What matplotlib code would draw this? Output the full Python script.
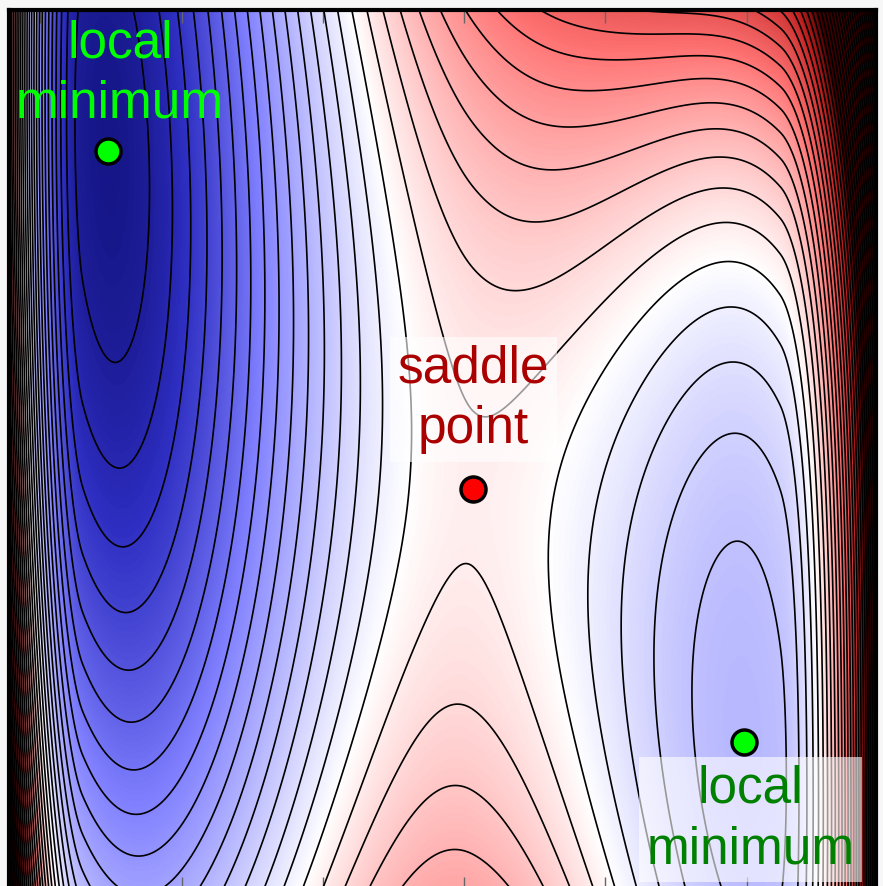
import numpy as np
import matplotlib.pyplot as plt
from matplotlib.colors import LinearSegmentedColormap

# stationary points (fraction of plot width / height): left min, saddle, right min
point_x = [0.114, 0.535, 0.848]
point_y = [0.839, 0.455, 0.167]
point_colors = ["#00ff00", "#ff0000", "#00ff00"]

label_text = ["local\nminimum", "saddle\npoint", "local\nminimum"]
label_colors = ["#00ff00", "#aa0000", "#008000"]
label_x = [0.128, 0.536, 0.855]
label_y = [0.877, 0.507, 0.029]
label_box = [False, True, True]

# surface parameters
saddle_value = 0.05
left_depth = 1.0
right_depth = 0.33
valley_slope = -0.915
curv_left = 0.86
curv_right = 0.5
curv_bump = 0.6
bump_center = 0.65
bump_width = 0.2
quartic_right = 0.8     # steeper rise towards the top right corner
wall_height = 1.0
wall_reach = [0.085, 0.11]
level_step = 0.06
level_offset = 0.0085   # first contour above the saddle

x_ticks = [0.036, 0.199, 0.362, 0.525, 0.688, 0.851]

# build the surface
u = np.linspace(0, 1, 801)
v = np.linspace(0, 1, 801)
u1, u3, u2 = point_x
dp = (u - u1) * (u - u3) * (u - u2)
I = np.concatenate([[0], np.cumsum((dp[1:] + dp[:-1]) / 2 * np.diff(u))])
i1, i2, i3 = [np.argmin(abs(u - t)) for t in (u1, u2, u3)]
p = np.where(u <= u3,
             saddle_value - left_depth * (I[i3] - I) / (I[i3] - I[i1]),
             saddle_value - right_depth * (I[i3] - I) / (I[i3] - I[i2]))
wl = np.clip((wall_reach[0] - u) / wall_reach[0], 0, None)
wr = np.clip((u - 1 + wall_reach[1]) / wall_reach[1], 0, None)
p = p + wall_height * (wl ** 2 + wr ** 2)

U, V = np.meshgrid(u, v)
c = point_y[1] + valley_slope * (U - u3)
b = (curv_left + (curv_right - curv_left) * (U - u1) / (u2 - u1)
     + curv_bump * np.exp(-((U - bump_center) / bump_width) ** 2))
q = quartic_right / (1 + np.exp(-(U - 0.7) / 0.05))
Z = p[None, :] + b * (V - c) ** 2 + q * (V - c) ** 4

levels = saddle_value + level_offset + level_step * np.arange(-40, 200)
levels = levels[(levels > Z.min()) & (levels < Z.max())]

cmap = LinearSegmentedColormap.from_list("bwr_dark", [
    (0.0, (0.06, 0.06, 0.47)),
    (0.1, (0.18, 0.18, 0.76)),
    (0.25, (0.5, 0.5, 1.0)),
    (0.38, (0.76, 0.76, 1.0)),
    (0.5, (1.0, 1.0, 1.0)),
    (0.72, (1.0, 0.45, 0.45)),
    (0.88, (0.75, 0.12, 0.12)),
    (1.0, (0.25, 0.0, 0.0)),
])

fig = plt.figure(figsize=(8.83, 8.86), dpi=100)
fig.patch.set_facecolor("#f7f7f7")
ax = fig.add_axes([9 / 883, -2.6 / 886, 867 / 883, 879 / 886])

ax.imshow(Z, extent=[0, 1, 0, 1], origin="lower", cmap=cmap, vmin=-1, vmax=1,
          aspect="auto", interpolation="bilinear")
ax.contour(U, V, Z, levels=levels, colors="k", linewidths=1.2, linestyles="solid")

for x, y, col in zip(point_x, point_y, point_colors):
    ax.plot(x, y, "o", ms=18, mfc=col, mec="k", mew=2.5, zorder=5)

for txt, col, x, y, box in zip(label_text, label_colors, label_x, label_y, label_box):
    t = ax.text(x, y, txt, color=col, fontsize=37, family="Liberation Sans",
                ha="center", va="baseline", linespacing=1.3, zorder=6)
    if box:
        t.set_bbox(dict(boxstyle="square,pad=0.15", fc="white", ec="none", alpha=0.6))

ax.set_xlim(0, 1)
ax.set_ylim(0, 1)
ax.set_xticks(x_ticks)
ax.set_yticks([])
ax.tick_params(direction="in", length=9, width=1, color="0.4",
               labelbottom=False, labelleft=False, top=True, right=True)
for s in ax.spines.values():
    s.set_linewidth(3)

fig.savefig("out.png", dpi=100)
